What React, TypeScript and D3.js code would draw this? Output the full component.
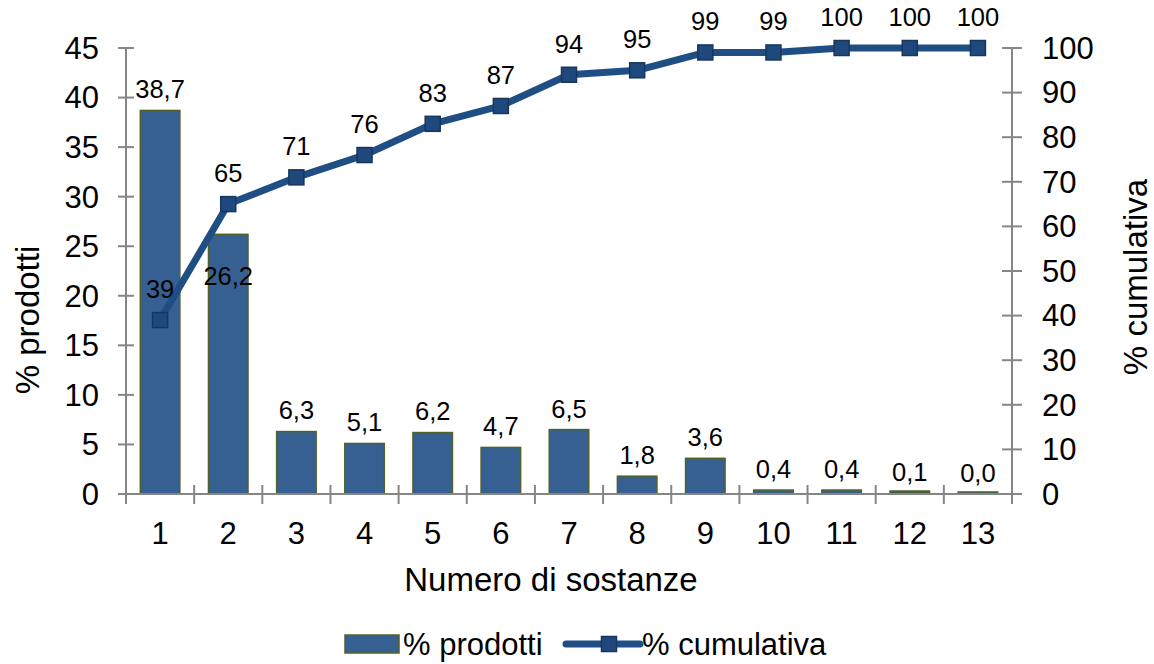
import React from "react";
import * as d3 from "d3";

// Number of substances per product
const categories = ["1", "2", "3", "4", "5", "6", "7", "8", "9", "10", "11", "12", "13"];
// % of products (bars, left axis)
const prodotti = [38.7, 26.2, 6.3, 5.1, 6.2, 4.7, 6.5, 1.8, 3.6, 0.4, 0.4, 0.1, 0.0];
// cumulative % (line, right axis)
const cumulativa = [39, 65, 71, 76, 83, 87, 94, 95, 99, 99, 100, 100, 100];
const leftTicks = [0, 5, 10, 15, 20, 25, 30, 35, 40, 45];
const rightTicks = [0, 10, 20, 30, 40, 50, 60, 70, 80, 90, 100];

const W = 1154;
const H = 664;
const m = { left: 126, right: 1012, top: 48, bottom: 494 };

const FONT = "'Liberation Sans', Arial, sans-serif";
const AXIS = "#868686";
const BAR_FILL = "#376092";
const BAR_STROKE = "#4f6228";
const LINE = "#1f4e85";
const MARK = "#1f497d";
const MARK_STROKE = "#17365d";

const TICK_FS = 31;
const TITLE_FS = 33;
const LABEL_FS = 25.5;

const fmt = (v: number) => v.toFixed(1).replace(".", ",");

export default function App() {
  const x = d3.scaleBand<string>().domain(categories).range([m.left, m.right]).paddingInner(0.42).paddingOuter(0.21);
  const xc = (c: string) => (x(c) as number) + x.bandwidth() / 2;
  const yL = d3.scaleLinear().domain([0, 45]).range([m.bottom, m.top]);
  const yR = d3.scaleLinear().domain([0, 100]).range([m.bottom, m.top]);
  const step = (m.right - m.left) / categories.length;

  const line = d3
    .line<number>()
    .x((_, i) => xc(categories[i]))
    .y((d) => yR(d));

  return (
    <svg width={W} height={H} style={{ position: "absolute", left: 0, top: 0, background: "#fff" }} fontFamily={FONT}>
      {/* bars */}
      {prodotti.map((v, i) => (
        <rect
          key={"b" + i}
          x={x(categories[i])}
          y={yL(v) - (v < 0.3 ? 2 : 0)}
          width={x.bandwidth()}
          height={Math.max(yL(0) - yL(v), 2)}
          fill={BAR_FILL}
          stroke={BAR_STROKE}
          strokeWidth={1.5}
        />
      ))}

      {/* axes */}
      <line x1={m.left} x2={m.left} y1={m.top} y2={m.bottom} stroke={AXIS} strokeWidth={2} />
      <line x1={m.right} x2={m.right} y1={m.top} y2={m.bottom} stroke={AXIS} strokeWidth={2} />
      <line x1={m.left - 8} x2={m.right + 8} y1={m.bottom} y2={m.bottom} stroke={AXIS} strokeWidth={2} />
      {leftTicks.map((t) => (
        <g key={"lt" + t}>
          <line x1={m.left - 8} x2={m.left + 8} y1={yL(t)} y2={yL(t)} stroke={AXIS} strokeWidth={2} />
          <text x={m.left - 27} y={yL(t)} dy="0.35em" textAnchor="end" fontSize={TICK_FS}>
            {t}
          </text>
        </g>
      ))}
      {rightTicks.map((t) => (
        <g key={"rt" + t}>
          <line x1={m.right - 10} x2={m.right + 10} y1={yR(t)} y2={yR(t)} stroke={AXIS} strokeWidth={2} />
          <text x={m.right + 30} y={yR(t)} dy="0.35em" textAnchor="start" fontSize={TICK_FS}>
            {t}
          </text>
        </g>
      ))}
      {d3.range(categories.length + 1).map((k) => (
        <line key={"xt" + k} x1={m.left + k * step} x2={m.left + k * step} y1={m.bottom - 9} y2={m.bottom + 10} stroke={AXIS} strokeWidth={2} />
      ))}
      {categories.map((c) => (
        <text key={"xl" + c} x={xc(c)} y={533} dy="0.35em" textAnchor="middle" fontSize={TICK_FS}>
          {c}
        </text>
      ))}

      {/* bar labels */}
      {prodotti.map((v, i) => (
        <text
          key={"bl" + i}
          x={xc(categories[i])}
          y={i === 1 ? yL(v) + 42 : yL(v) - 21}
          dy="0.35em"
          textAnchor="middle"
          fontSize={LABEL_FS}
        >
          {fmt(v)}
        </text>
      ))}

      {/* cumulative line */}
      <path d={line(cumulativa) as string} fill="none" stroke={LINE} strokeWidth={7} strokeLinejoin="round" />
      {cumulativa.map((v, i) => (
        <rect key={"m" + i} x={xc(categories[i]) - 7.5} y={yR(v) - 7.5} width={15} height={15} fill={MARK} stroke={MARK_STROKE} strokeWidth={1.5} />
      ))}
      {cumulativa.map((v, i) => (
        <text key={"ml" + i} x={xc(categories[i])} y={yR(v) - 31} dy="0.35em" textAnchor="middle" fontSize={LABEL_FS}>
          {v}
        </text>
      ))}

      {/* axis titles */}
      <text transform="translate(27,320) rotate(-90)" textAnchor="middle" dy="0.35em" fontSize={TITLE_FS}>
        % prodotti
      </text>
      <text transform="translate(1135,277) rotate(-90)" textAnchor="middle" dy="0.35em" fontSize={TITLE_FS}>
        % cumulativa
      </text>
      <text x={551} y={591} textAnchor="middle" fontSize={TITLE_FS}>
        Numero di sostanze
      </text>

      {/* legend */}
      <rect x={345} y={635} width={54} height={18} fill={BAR_FILL} stroke={BAR_STROKE} strokeWidth={1.5} />
      <text x={403} y={644} dy="0.35em" fontSize={TICK_FS}>
        % prodotti
      </text>
      <line x1={566} x2={640} y1={644} y2={644} stroke={LINE} strokeWidth={7} strokeLinecap="round" />
      <rect x={601.5} y={636.5} width={15} height={15} fill={MARK} stroke={MARK_STROKE} strokeWidth={1.5} />
      <text x={642} y={644} dy="0.35em" fontSize={TICK_FS}>
        % cumulativa
      </text>
    </svg>
  );
}
